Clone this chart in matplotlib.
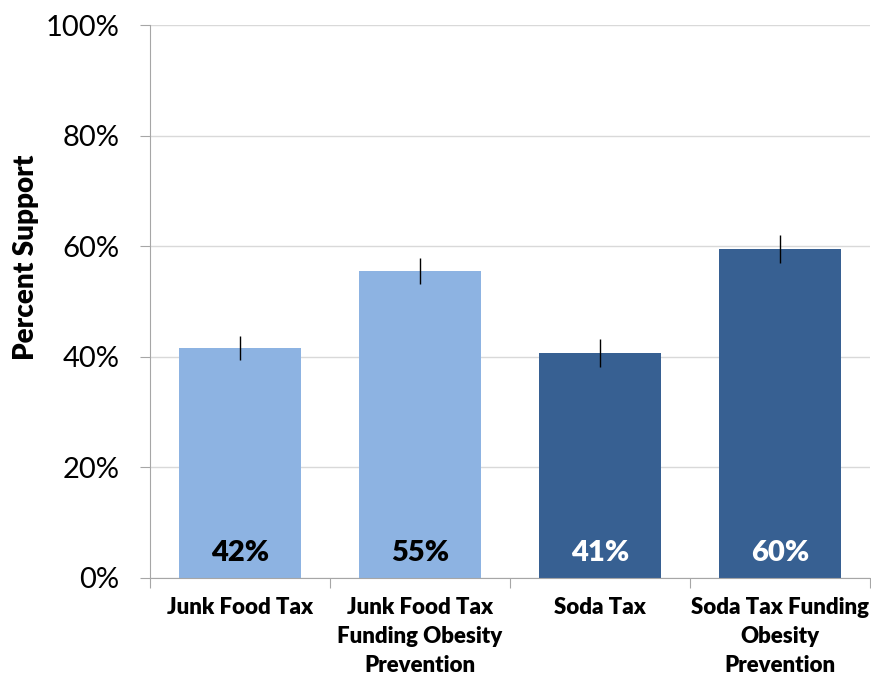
import matplotlib.pyplot as plt
from matplotlib.ticker import MultipleLocator, FuncFormatter

plt.rcParams['font.family'] = ['Lato', 'DejaVu Sans']

categories = ["Junk Food Tax",
              "Junk Food Tax\nFunding Obesity\nPrevention",
              "Soda Tax",
              "Soda Tax Funding\nObesity\nPrevention"]
support = [41.6, 55.5, 40.7, 59.5]
errors = [2.2, 2.3, 2.5, 2.5]
value_labels = ["42%", "55%", "41%", "60%"]
bar_colors = ["#8DB3E2", "#8DB3E2", "#376092", "#376092"]
label_colors = ["black", "black", "white", "white"]

fig = plt.figure(figsize=(8.71, 6.77), dpi=100)
ax = fig.add_axes([150 / 871, 99 / 677, 720 / 871, 553 / 677])

x = range(len(categories))
ax.bar(x, support, width=0.68, color=bar_colors, zorder=2,
       yerr=errors, error_kw=dict(ecolor="black", elinewidth=1, capsize=0))

for i, (lab, col) in enumerate(zip(value_labels, label_colors)):
    ax.text(i, 4.6, lab, ha="center", va="center", fontsize=21,
            fontweight="heavy", color=col, zorder=3)

ax.set_xlim(-0.5, len(categories) - 0.5)
ax.set_ylim(0, 100)
ax.yaxis.set_major_locator(MultipleLocator(20))
ax.yaxis.set_major_formatter(FuncFormatter(lambda v, p: f"{v:.0f}%"))
ax.grid(axis="y", color="#D9D9D9", linewidth=1, zorder=0)
ax.set_axisbelow(True)

ax.set_xticks([i - 0.5 for i in range(len(categories) + 1)], minor=False)
ax.set_xticklabels([])
ax.set_xticks(list(x), minor=True)
ax.set_xticklabels(categories, minor=True, fontsize=16, fontweight="heavy",
                   linespacing=1.45, va="top")
ax.tick_params(axis="x", which="minor", length=0, pad=14)
ax.tick_params(axis="x", which="major", length=7, color="#A6A6A6", direction="out")
ax.tick_params(axis="y", length=7, color="#A6A6A6", labelsize=21, pad=15)

for side in ["top", "right"]:
    ax.spines[side].set_visible(False)
ax.spines["left"].set_color("#A6A6A6")
ax.spines["bottom"].set_color("#A6A6A6")

fig.text(26 / 871, 1 - 257 / 677, "Percent Support", rotation=90,
         ha="center", va="center", fontsize=20, fontweight="heavy")

fig.savefig("out.png", dpi=100)
